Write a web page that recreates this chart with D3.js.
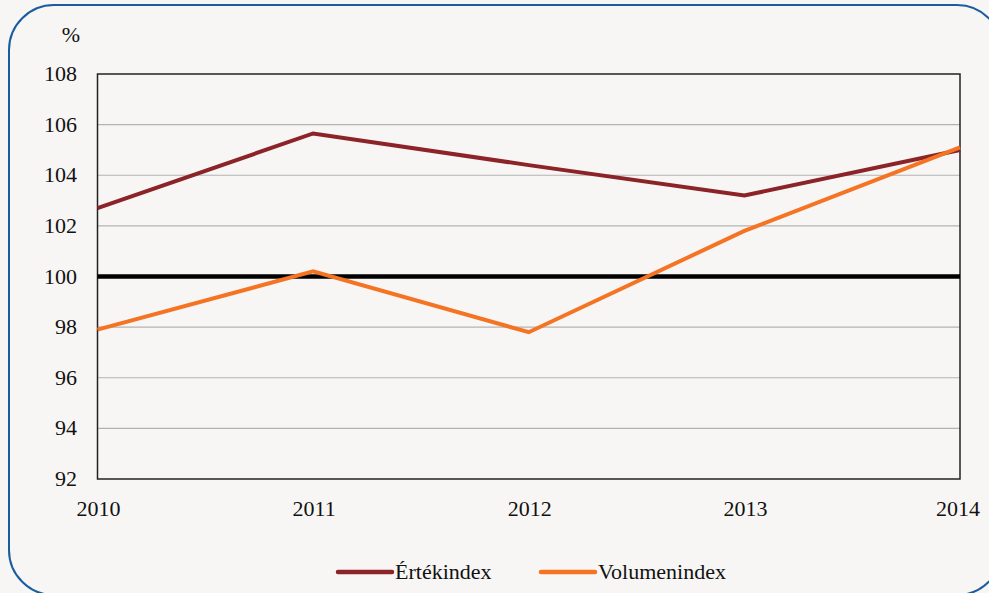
<!DOCTYPE html>
<html>
<head>
<meta charset="utf-8">
<script src="https://cdn.jsdelivr.net/npm/d3@7"></script>
<style>
  html, body { margin: 0; padding: 0; background: #f7f6f4; }
  svg { display: block; }
  svg text { font-family: "Liberation Serif", "Times New Roman", serif; }
</style>
</head>
<body>
<svg id="chart" width="989" height="593"></svg>
<script>
// data
var years = ["2010", "2011", "2012", "2013", "2014"];
var ertekindex = [102.7, 105.65, 104.4, 103.2, 105.0];
var volumenindex = [97.9, 100.2, 97.8, 101.8, 105.1];
var yTicks = [92, 94, 96, 98, 100, 102, 104, 106, 108];
var seriesNames = ["Értékindex", "Volumenindex"];
var seriesColors = ["#8b2328", "#f47424"];

var svg = d3.select("#chart");

// rounded frame
svg.append("rect")
  .attr("x", 9).attr("y", 5)
  .attr("width", 993).attr("height", 590)
  .attr("rx", 45).attr("ry", 45)
  .attr("fill", "#f7f6f4")
  .attr("stroke", "#1a5d9f")
  .attr("stroke-width", 2);

var pLeft = 97.5, pRight = 960, pTop = 74, pBottom = 479;
var fontSize = 22;
var serif = "'Liberation Serif', 'Times New Roman', serif";

var x = d3.scalePoint().domain(years).range([pLeft, pRight]);
var y = d3.scaleLinear().domain([92, 108]).range([pBottom, pTop]);

// grid lines
svg.append("g")
  .selectAll("line")
  .data(yTicks.filter(d => d != 92 && d != 108 && d != 100))
  .enter().append("line")
  .attr("x1", pLeft).attr("x2", pRight)
  .attr("y1", d => y(d)).attr("y2", d => y(d))
  .attr("stroke", "#b3b3b3")
  .attr("stroke-width", 1.2);

// plot frame
svg.append("rect")
  .attr("x", pLeft).attr("y", pTop)
  .attr("width", pRight - pLeft).attr("height", pBottom - pTop)
  .attr("fill", "none")
  .attr("stroke", "#222")
  .attr("stroke-width", 1.5);

// y tick labels
svg.append("g")
  .selectAll("text")
  .data(yTicks)
  .enter().append("text")
  .attr("x", 77)
  .attr("y", d => y(d) + 7)
  .attr("text-anchor", "end")
  .attr("font-family", serif)
  .attr("font-size", fontSize)
  .attr("fill", "#111")
  .text(d => d);

svg.append("text")
  .attr("x", 71).attr("y", 42)
  .attr("text-anchor", "middle")
  .attr("font-family", serif)
  .attr("font-size", fontSize)
  .attr("fill", "#111")
  .text("%");

// x tick labels
svg.append("g")
  .selectAll("text")
  .data(years)
  .enter().append("text")
  .attr("x", d => x(d) + (d == "2014" ? -2 : 1))
  .attr("y", 516)
  .attr("text-anchor", "middle")
  .attr("font-family", serif)
  .attr("font-size", fontSize)
  .attr("fill", "#111")
  .text(d => d);

// 100 reference line
svg.append("line")
  .attr("x1", pLeft).attr("x2", pRight)
  .attr("y1", y(100)).attr("y2", y(100))
  .attr("stroke", "#000")
  .attr("stroke-width", 4.5);

var line = d3.line()
  .x((d, i) => x(years[i]))
  .y(d => y(d));

[ertekindex, volumenindex].forEach(function(vals, i) {
  svg.append("path")
    .datum(vals)
    .attr("d", line)
    .attr("fill", "none")
    .attr("stroke", seriesColors[i])
    .attr("stroke-width", 4)
    .attr("stroke-linejoin", "miter");
});

// legend
var legendX = [338, 541];
var lg = svg.append("g");
seriesNames.forEach(function(name, i) {
  lg.append("line")
    .attr("x1", legendX[i]).attr("x2", legendX[i] + 54)
    .attr("y1", 572).attr("y2", 572)
    .attr("stroke", seriesColors[i])
    .attr("stroke-width", 4.5)
    .attr("stroke-linecap", "round");
  lg.append("text")
    .attr("x", legendX[i] + 57)
    .attr("y", 579)
    .attr("font-family", serif)
    .attr("font-size", fontSize)
    .attr("fill", "#111")
    .text(name);
});
</script>
</body>
</html>
